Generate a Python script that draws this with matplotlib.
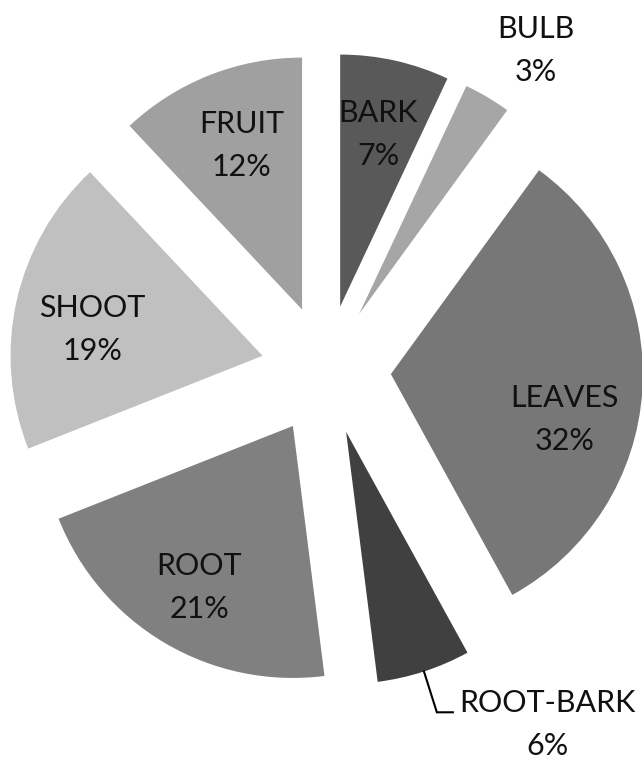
import numpy as np
import matplotlib
matplotlib.use('Agg')
import matplotlib.pyplot as plt

parts = ['BARK', 'BULB', 'LEAVES', 'ROOT-BARK', 'ROOT', 'SHOOT', 'FRUIT']
shares = [7, 3, 32, 6, 21, 19, 12]
colors = ['#595959', '#a6a6a6', '#777777', '#404040', '#808080', '#c0c0c0', '#a0a0a0']

# label placement: distance (in radii) and direction (deg clockwise from top) from each wedge tip
lab_dist = [0.70, 1.26, 0.713, 1.41, 0.743, 0.685, 0.695]
lab_ang = [12.4, 33.8, 104.5, 145.4, 210.1, 278.9, 339.9]

W, H = 642, 759
R = 252
cx, cy = 326, H - 370
gap = 65  # explode distance in pixels (pie uses data units)

plt.rcParams['font.family'] = ['Lato', 'DejaVu Sans']
fig = plt.figure(figsize=(W / 100, H / 100), dpi=100)
ax = fig.add_axes([0, 0, 1, 1])

wedges, _ = ax.pie(shares, colors=colors, startangle=90, counterclock=False,
                   radius=R, center=(cx, cy), explode=[gap] * len(shares),
                   wedgeprops=dict(linewidth=0), frame=True)
ax.set_xlim(0, W)
ax.set_ylim(0, H)
ax.set_aspect('equal')
ax.axis('off')

for w, name, v, rho, ang in zip(wedges, parts, shares, lab_dist, lab_ang):
    x0, y0 = w.center
    a = np.radians(ang)
    tx = x0 + rho * R * np.sin(a)
    ty = y0 + rho * R * np.cos(a)
    ax.text(tx, ty, name + '\n' + str(v) + '%', ha='center', va='center',
            fontsize=22, color='#111111', linespacing=1.65)
    if name == 'ROOT-BARK':
        mid = np.radians((w.theta1 + w.theta2) / 2)
        sx = x0 + R * np.cos(mid)
        sy = y0 + R * np.sin(mid)
        ax.plot([sx, tx - 111, tx - 95], [sy, ty + 12, ty + 12],
                color='black', lw=1.5, solid_joinstyle='miter')

fig.savefig('out.png', dpi=100)
